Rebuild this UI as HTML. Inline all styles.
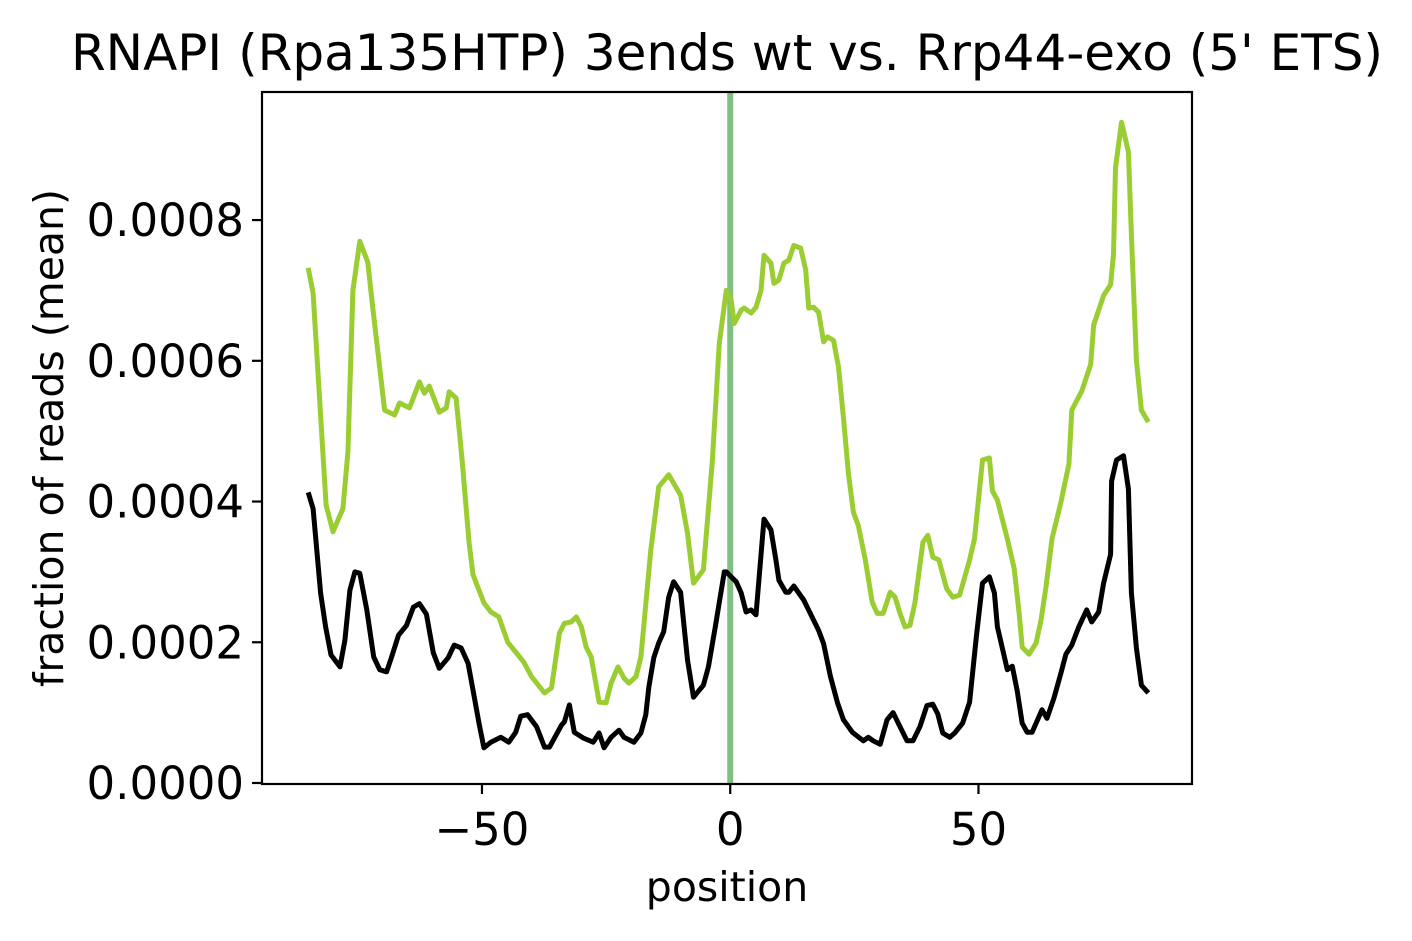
<!DOCTYPE html>
<html><head><meta charset="utf-8"><style>
body{margin:0;background:#fff;}
svg{display:block;font-family:"DejaVu Sans","Liberation Sans",sans-serif;}
</style></head><body>
<svg id="chart" width="1412" height="941" viewBox="0 0 1412 941" xmlns="http://www.w3.org/2000/svg">
<rect width="1412" height="941" fill="#fff"/>
<text x="727" y="70" font-size="50" text-anchor="middle">RNAPI (Rpa135HTP) 3ends wt vs. Rrp44-exo (5' ETS)</text>
<g id="plot"></g>
<text x="727" y="901" font-size="41" text-anchor="middle">position</text>
<text x="0" y="0" font-size="41" text-anchor="middle" transform="translate(63,438) rotate(-90)">fraction of reads (mean)</text>
</svg>
<script>
const xTicks = [-50, 0, 50];
const yTicks = [0, 0.0002, 0.0004, 0.0006, 0.0008];
const yTickLabels = ["0.0000", "0.0002", "0.0004", "0.0006", "0.0008"];
const markerX = 0;
const greenX = [-85,-84,-81.4,-80,-78,-77,-76,-74.6,-73,-72,-69.6,-67.6,-66.6,-64.6,-62.6,-61.6,-60.6,-58.6,-57.2,-56.6,-55.2,-54,-52.6,-51.8,-49.6,-48.2,-46.6,-44.8,-41.6,-40,-37.4,-36,-34.4,-33.4,-32,-31,-30,-29,-28,-26.4,-25,-24,-22.6,-21.4,-20.4,-19,-18,-16,-14.4,-12.4,-10,-8.6,-7.4,-5.4,-3.6,-2.2,-0.8,0.2,0.8,2.2,2.8,4.2,5.2,6.2,6.8,8.2,8.8,9.8,10.8,11.8,12.8,14.2,15.2,15.8,16.8,17.8,18.8,19.6,20.8,21.8,22.8,23.8,24.8,25.8,27.2,28.6,29.6,30.8,32.2,33.2,34.2,35.2,36.2,37.2,38.8,39.8,40.8,42,43.6,44.8,46.2,48.2,49.2,50.8,52.2,52.8,53.8,55.8,57.2,58.2,58.8,60.2,61.6,62.6,63.6,64.8,66.6,68.2,68.8,70.8,72.6,73.2,74.2,75.2,76.6,77.2,77.6,78.8,80.2,80.8,81.8,82.8,84.2];
const greenY = [7.32,6.96,3.95,3.57,3.9,4.7,7.0,7.7,7.4,6.76,5.3,5.23,5.4,5.33,5.7,5.54,5.64,5.27,5.33,5.56,5.47,4.59,3.41,2.96,2.56,2.43,2.36,2.0,1.72,1.51,1.28,1.35,2.13,2.27,2.29,2.36,2.22,1.93,1.79,1.15,1.14,1.42,1.65,1.49,1.42,1.51,1.79,3.31,4.21,4.38,4.09,3.55,2.84,3.03,4.59,6.25,7.0,6.86,6.53,6.72,6.75,6.68,6.76,7.0,7.5,7.39,7.1,7.15,7.39,7.43,7.64,7.6,7.29,6.75,6.76,6.69,6.27,6.34,6.29,5.91,5.2,4.4,3.85,3.66,3.17,2.57,2.41,2.41,2.71,2.64,2.41,2.22,2.24,2.56,3.42,3.52,3.21,3.17,2.76,2.64,2.67,3.17,3.47,4.59,4.62,4.15,4.02,3.47,3.05,2.4,1.93,1.83,1.99,2.32,2.79,3.47,3.99,4.53,5.3,5.57,5.95,6.51,6.72,6.93,7.08,7.52,8.74,9.39,8.97,7.79,6.01,5.3,5.13];
const blackX = [-85,-84,-82.5,-81.5,-80.4,-78.6,-77.6,-76.6,-75.6,-74.6,-73.2,-71.8,-70.6,-69.2,-68.2,-66.8,-65.2,-63.8,-62.6,-61.2,-59.8,-58.6,-56.8,-55.6,-54.2,-52.8,-51.8,-50.6,-49.6,-48.2,-46.2,-44.6,-43.2,-42.2,-40.8,-39,-37.4,-36.4,-34,-33.4,-32.4,-31.4,-29.6,-27.6,-26.4,-25.4,-24,-22.4,-21.4,-19.4,-18,-17,-16.4,-15.4,-14.4,-13.4,-12.4,-11.4,-10,-8.6,-7.4,-5.4,-4.4,-3,-1.2,-0.8,1.2,2.2,3.2,4.2,5.2,6.8,8.2,9.2,9.8,11.2,11.8,12.8,14.8,16.6,17.8,18.8,20.2,21.6,22.8,24.6,26.8,27.8,28.8,30.2,31.6,32.8,34.2,35.6,36.8,38.2,39.6,40.8,41.8,42.8,44.2,45.2,46.8,48.2,49.6,50.8,52.2,53.2,53.8,54.8,55.8,56.8,57.8,58.8,59.8,60.8,62.8,63.8,65.2,66.6,67.6,68.8,70.2,71.8,72.8,74.2,75.2,76.6,76.8,77.8,79.2,80.2,80.8,81.8,82.8,84.2];
const blackY = [4.13,3.9,2.7,2.22,1.82,1.65,2.03,2.74,3.0,2.98,2.46,1.79,1.61,1.58,1.79,2.1,2.24,2.5,2.55,2.4,1.85,1.63,1.78,1.96,1.92,1.7,1.32,0.85,0.5,0.58,0.65,0.58,0.72,0.95,0.97,0.8,0.51,0.51,0.82,0.87,1.11,0.72,0.64,0.58,0.71,0.5,0.65,0.75,0.65,0.58,0.71,0.97,1.36,1.78,1.99,2.15,2.64,2.86,2.71,1.75,1.22,1.39,1.65,2.22,3.0,3.0,2.86,2.7,2.43,2.46,2.39,3.75,3.6,3.17,2.88,2.71,2.71,2.8,2.6,2.34,2.17,1.98,1.51,1.14,0.9,0.72,0.6,0.65,0.6,0.55,0.9,1.0,0.8,0.6,0.6,0.8,1.1,1.12,0.98,0.71,0.65,0.71,0.85,1.15,2.1,2.84,2.93,2.7,2.22,1.92,1.61,1.66,1.31,0.85,0.72,0.72,1.04,0.92,1.21,1.56,1.83,1.96,2.22,2.46,2.29,2.43,2.84,3.25,4.29,4.59,4.65,4.18,2.7,1.92,1.39,1.28];

const L=262,R=1192,T=92,B=784;
const xMin=-94.3,xMax=93.0,yMin=0,yMax=0.000982;
const sx=v=>L+(v-xMin)/(xMax-xMin)*(R-L);
const sy=v=>B-1-(v-yMin)/(yMax-yMin)*(B-1-T);
const NS="http://www.w3.org/2000/svg";
const g=document.getElementById('plot');
function mk(tag,attrs){const e=document.createElementNS(NS,tag);for(const k in attrs)e.setAttribute(k,attrs[k]);return e;}

const vline=mk('line',{x1:sx(markerX),x2:sx(markerX),y1:T,y2:B,stroke:'#7fbf7f','stroke-width':6});


g.appendChild(vline);

function series(xs,ys,color,name){
  const d=xs.map((x,i)=>(i?'L':'M')+sx(x).toFixed(1)+' '+sy(ys[i]*1e-4).toFixed(1)).join(' ');
  const p=mk('path',{d:d,fill:'none',stroke:color,'stroke-width':5,'stroke-linejoin':'round'});
  
  
  g.appendChild(p);
}
series(greenX,greenY,'#9acd32','series-rrp44-exo-line');
series(blackX,blackY,'#000000','series-wt-line');

const frame=mk('rect',{x:L,y:T,width:R-L,height:B-T,fill:'none',stroke:'#000','stroke-width':2.2});


g.appendChild(frame);

xTicks.forEach(v=>{
  const t=mk('line',{x1:sx(v),x2:sx(v),y1:B,y2:B+10,stroke:'#000','stroke-width':2.2});
  
  
  g.appendChild(t);
  const lb=mk('text',{x:sx(v),y:B+61,'font-size':45,'text-anchor':'middle'});
  lb.textContent=v<0?'\u2212'+Math.abs(v):String(v);
  
  
  g.appendChild(lb);
});
yTicks.forEach((v,i)=>{
  const y=sy(v);
  const t=mk('line',{x1:L-10,x2:L,y1:y,y2:y,stroke:'#000','stroke-width':2.2});
  
  
  g.appendChild(t);
  const lb=mk('text',{x:L-18,y:y+16,'font-size':45,'text-anchor':'end'});
  lb.textContent=yTickLabels[i];
  
  
  g.appendChild(lb);
});
</script>
</body></html>
